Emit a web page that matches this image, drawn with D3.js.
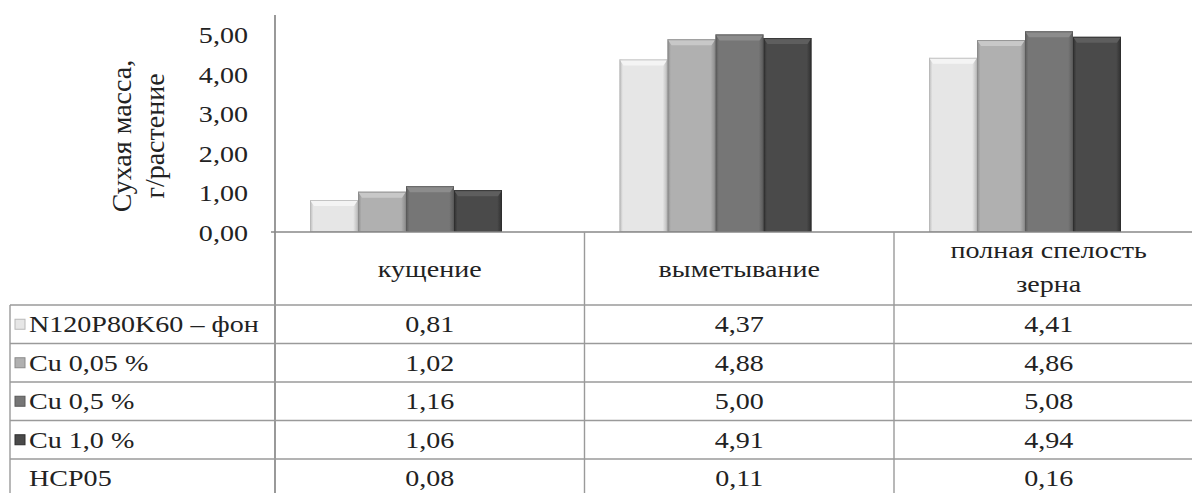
<!DOCTYPE html>
<html>
<head>
<meta charset="utf-8">
<script src="https://cdn.jsdelivr.net/npm/d3@7"></script>
</head>
<body style="margin:0">
<svg id="chart" width="1192" height="493"></svg>
<script>
// Dry mass of plants by growth stage and copper treatment
const stages = ["кущение", "выметывание", "полная спелость\nзерна"];
const seriesNames = ["N120P80K60 – фон", "Cu 0,05 %", "Cu 0,5 %", "Cu 1,0 %"];
const valuesFon   = [0.81, 4.37, 4.41];
const valuesCu005 = [1.02, 4.88, 4.86];
const valuesCu05  = [1.16, 5.00, 5.08];
const valuesCu10  = [1.06, 4.91, 4.94];
const lsd05       = [0.08, 0.11, 0.16];
const lsdLabel = "НСР05";
const yTicks = [0, 1, 2, 3, 4, 5];
const yTitle = ["Сухая масса,", "г/растение"];

const seriesValues = [valuesFon, valuesCu005, valuesCu05, valuesCu10];
const palette = [
  { main: "#e6e6e6", edge: "#b8b8b8", top: "#f4f4f4" },
  { main: "#b0b0b0", edge: "#8a8a8a", top: "#c8c8c8" },
  { main: "#767676", edge: "#5a5a5a", top: "#8c8c8c" },
  { main: "#4a4a4a", edge: "#2e2e2e", top: "#5e5e5e" }
];

const FONT = '"Liberation Serif"';
const svg = d3.select("#chart");
const W = 1192, H = 493;
const SX = 1.17;      // horizontal stretch of table / tick text
const FS = 24;
const fmt = v => d3.format(".2f")(v).replace(".", ",");

// geometry
const axisX = 275, base = 232, axisTop = 15;
const colW = 309.5;
const tableLeft = 10, headerBottom = 305, rowH = 38.5;

const y = d3.scaleLinear().domain([0, 5]).range([base, base - 197.5]);
const x0 = d3.scaleBand().domain(stages).range([axisX, axisX + colW * 3]);
const x1 = d3.scaleBand().domain(seriesNames).range([35, 35 + 192]);

// gradients for bevelled bars
const defs = svg.append("defs");
palette.forEach((p, i) => {
  const g = defs.append("linearGradient").attr("id", "bar" + i)
    .attr("x1", "0").attr("x2", "1").attr("y1", "0").attr("y2", "0");
  g.append("stop").attr("offset", "0").attr("stop-color", p.edge);
  g.append("stop").attr("offset", "0.07").attr("stop-color", p.main);
  g.append("stop").attr("offset", "0.9").attr("stop-color", p.main);
  g.append("stop").attr("offset", "1").attr("stop-color", p.edge);
});

// places a text with its own translate/scale so the glyphs get the table's wide look
function addText(parent, x, yb, str, anchor, size, sx) {
  return parent.append("text")
    .attr("transform", `translate(${x},${yb}) scale(${sx || SX},1)`)
    .attr("text-anchor", anchor)
    .style("font-family", FONT)
    .style("font-size", (size || FS) + "px")
    .style("fill", "#222")
    .text(str);
}

// bars
const groups = svg.append("g").selectAll("g")
  .data(stages).join("g")
  .attr("transform", d => `translate(${x0(d)},0)`);

groups.each(function(stage, si) {
  const g = d3.select(this);
  seriesNames.forEach((name, k) => {
    const v = seriesValues[k][si];
    const bx = x1(name), bw = x1.bandwidth();
    const top = y(v), h = y(0) - y(v);
    const p = palette[k];
    g.append("rect").attr("x", bx).attr("y", top).attr("width", bw).attr("height", h)
      .attr("fill", `url(#bar${k})`);
    // bevelled top
    g.append("path")
      .attr("d", `M${bx},${top} L${bx + bw},${top} L${bx + bw - 4},${top + 6} L${bx + 4},${top + 6} Z`)
      .attr("fill", p.top);
    // outline
    g.append("rect").attr("x", bx + 0.5).attr("y", top + 0.5).attr("width", bw - 1).attr("height", h - 1)
      .attr("fill", "none").attr("stroke", p.edge).attr("stroke-width", 1).attr("opacity", 0.8);
  });
});

// y axis tick labels (positions from the axis generator)
const yAxis = d3.axisLeft(y).tickValues(yTicks).tickSize(0).tickFormat(fmt);
const ya = svg.append("g").attr("transform", `translate(${axisX},0)`).call(yAxis);
ya.select(".domain").remove();
ya.selectAll(".tick text").remove();
ya.selectAll(".tick").each(function(d) {
  addText(d3.select(this), -27, 8, fmt(d), "end");
});

// axis title
const tt = svg.append("g").attr("transform", "translate(0,136) rotate(-90)");
addText(tt, 0, 131, yTitle[0], "middle", 28, 1);
addText(tt, 0, 164, yTitle[1], "middle", 28, 1);

// grid of data table
const lines = svg.append("g").attr("stroke", "#9a9a9a").attr("stroke-width", 1.4);
// vertical axis line running through the table
lines.append("line").attr("x1", axisX).attr("x2", axisX).attr("y1", axisTop).attr("y2", H)
  .attr("stroke", "#808080").attr("stroke-width", 1.6);
// baseline
lines.append("line").attr("x1", axisX - 4).attr("x2", W).attr("y1", base).attr("y2", base)
  .attr("stroke", "#888");
// column separators
stages.slice(1).forEach(s => {
  lines.append("line").attr("x1", x0(s)).attr("x2", x0(s)).attr("y1", base).attr("y2", H);
});
// left border of table
lines.append("line").attr("x1", tableLeft).attr("x2", tableLeft).attr("y1", headerBottom).attr("y2", H);
// row lines
const rowLabels = seriesNames.concat([lsdLabel]);
for (let r = 0; r < rowLabels.length; r++) {
  const yy = headerBottom + r * rowH;
  lines.append("line").attr("x1", tableLeft).attr("x2", W).attr("y1", yy).attr("y2", yy);
}

// header labels
stages.forEach(s => {
  const parts = s.split("\n");
  const cx = x0(s) + x0.bandwidth() / 2;
  if (parts.length === 1) {
    addText(svg, cx, 277, parts[0], "middle");
  } else {
    addText(svg, cx, 258, parts[0], "middle");
    addText(svg, cx, 292, parts[1], "middle");
  }
});

// table rows
const rowValues = seriesValues.concat([lsd05]);
rowLabels.forEach((label, r) => {
  const cy = headerBottom + r * rowH + rowH / 2;
  if (r < seriesNames.length) {
    const p = palette[r];
    svg.append("rect").attr("x", 15).attr("y", cy - 5).attr("width", 10).attr("height", 10)
      .attr("fill", p.main).attr("stroke", p.edge).attr("stroke-width", 1);
  }
  addText(svg, 29, cy + 8, label, "start");
  stages.forEach((s, si) => {
    addText(svg, x0(s) + x0.bandwidth() / 2, cy + 8, fmt(rowValues[r][si]), "middle");
  });
});
</script>
</body>
</html>
